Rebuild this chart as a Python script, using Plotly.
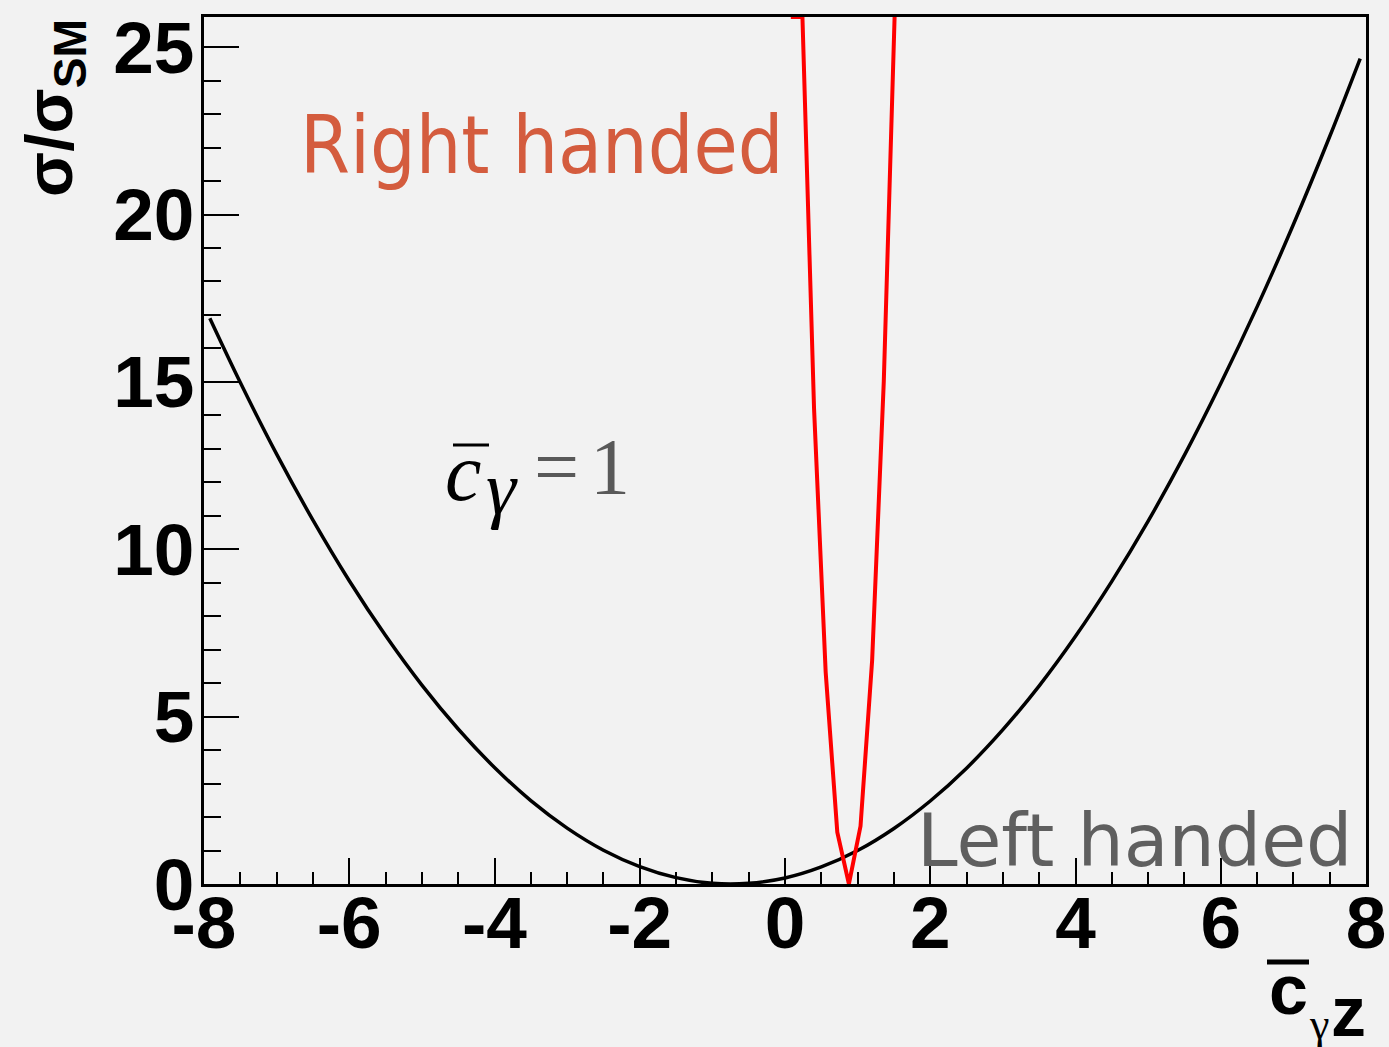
import plotly.graph_objects as go

# Cross-section ratio versus c_gammaZ (c_gamma = 1)
left_x = [-7.92, -7.5, -7.0, -6.5, -6.0, -5.5, -5.0, -4.5, -4.0, -3.5, -3.0, -2.5,
          -2.0, -1.5, -1.0, -0.5, 0.0, 0.5, 1.0, 1.5, 2.0, 2.5, 3.0, 3.5, 4.0,
          4.5, 5.0, 5.5, 6.0, 6.5, 7.0, 7.5, 7.92]
left_y = [16.9, 14.98, 12.84, 10.87, 9.06, 7.42, 5.94, 4.63, 3.48, 2.49, 1.67, 1.01,
          0.52, 0.19, 0.02, 0.02, 0.18, 0.51, 1.00, 1.66, 2.48, 3.46, 4.61, 5.92, 7.40,
          9.04, 10.84, 12.81, 14.95, 17.24, 19.70, 22.33, 24.66]

right_x = [0.08, 0.24, 0.40, 0.56, 0.72, 0.88, 1.04, 1.20, 1.36, 1.52]
right_y = [25.9, 25.9, 14.2, 6.33, 1.55, 0.0, 1.73, 6.69, 15.0, 26.7]

x_ticks = [-8, -6, -4, -2, 0, 2, 4, 6, 8]
y_ticks = [0, 5, 10, 15, 20, 25]

W, H = 1389, 1047
L, R, T, B = 204, 23, 17, 163
PW, PH = W - L - R, H - T - B


def px_x(p):
    return (p - L) / PW


def px_y(p):
    return (H - B - p) / PH


BG = "#f2f2f2"
GREY = "#595959"

fig = go.Figure()
fig.add_trace(go.Scatter(x=left_x, y=left_y, mode="lines",
                         line=dict(color="black", width=3.5, shape="spline"),
                         showlegend=False, hoverinfo="skip"))
fig.add_trace(go.Scatter(x=right_x, y=right_y, mode="lines",
                         line=dict(color="#ff0000", width=4),
                         showlegend=False, hoverinfo="skip"))

tickfont = dict(family="Liberation Sans, Arial, sans-serif", size=73, color="black",
                weight="bold")

fig.update_xaxes(range=[-8, 8], tickvals=x_ticks, ticktext=[str(v) for v in x_ticks],
                 ticks="inside", ticklen=26, tickwidth=2, tickcolor="black",
                 minor=dict(ticks="inside", dtick=0.5, ticklen=12, tickwidth=2,
                            tickcolor="black"),
                 showline=True, linecolor="black", linewidth=3, mirror=True,
                 showgrid=False, zeroline=False, tickfont=tickfont, automargin=False,
                 ticklabelstandoff=-27)
fig.update_yaxes(range=[0, 25.9], tickvals=y_ticks, ticktext=[str(v) for v in y_ticks],
                 ticks="inside", ticklen=35, tickwidth=2, tickcolor="black",
                 minor=dict(ticks="inside", dtick=1, ticklen=17, tickwidth=2,
                            tickcolor="black"),
                 showline=True, linecolor="black", linewidth=3, mirror=True,
                 showgrid=False, zeroline=False, tickfont=tickfont, automargin=False,
                 ticklabelstandoff=-8)


def label(text, px, py, size, family, color="black", xanchor="left", yanchor="middle",
          angle=0, weight="normal"):
    return dict(text=text, x=px_x(px), y=px_y(py), xref="paper", yref="paper",
                xanchor=xanchor, yanchor=yanchor, textangle=angle, showarrow=False,
                font=dict(family=family, size=size, color=color, weight=weight))


SANS = "Liberation Sans, Arial, sans-serif"
SERIF = "Liberation Serif, Times New Roman, serif"

annotations = [
    # y-axis title
    label("σ/σ<sub>SM</sub>", 54, 108, 66, SANS, xanchor="center", angle=-90,
          weight="bold"),
    # x-axis title pieces
    label("c", 1288, 990, 70, SANS, xanchor="center", weight="bold"),
    label("γ", 1319, 1024, 44, SERIF, xanchor="center"),
    label("z", 1348, 1012, 70, SANS, xanchor="center", weight="bold"),
    # in-plot labels
    label("Right handed", 298, 146, 80, "DejaVu Sans Condensed, DejaVu Sans",
          color="#d45c3e"),
    label("Left handed", 1354, 840, 73, "DejaVu Sans", color="#5f5f5f", xanchor="right"),
    label("<i>c</i>", 443, 472, 82, SERIF),
    label("<i>γ</i>", 484, 488, 76, SERIF),
    label("=", 532, 467, 80, SERIF, color=GREY),
    label("1", 588, 467, 80, SERIF, color=GREY),
]

shapes = [
    # bars over the c symbols
    dict(type="line", xref="paper", yref="paper", x0=px_x(1267), x1=px_x(1309),
         y0=px_y(962), y1=px_y(962), line=dict(color="black", width=5)),
    dict(type="line", xref="paper", yref="paper", x0=px_x(453), x1=px_x(489),
         y0=px_y(445), y1=px_y(445), line=dict(color="black", width=3)),
]

fig.update_layout(width=W, height=H, margin=dict(l=L, r=R, t=T, b=B),
                  paper_bgcolor=BG, plot_bgcolor=BG,
                  annotations=annotations, shapes=shapes)

fig.write_html("out.html")
